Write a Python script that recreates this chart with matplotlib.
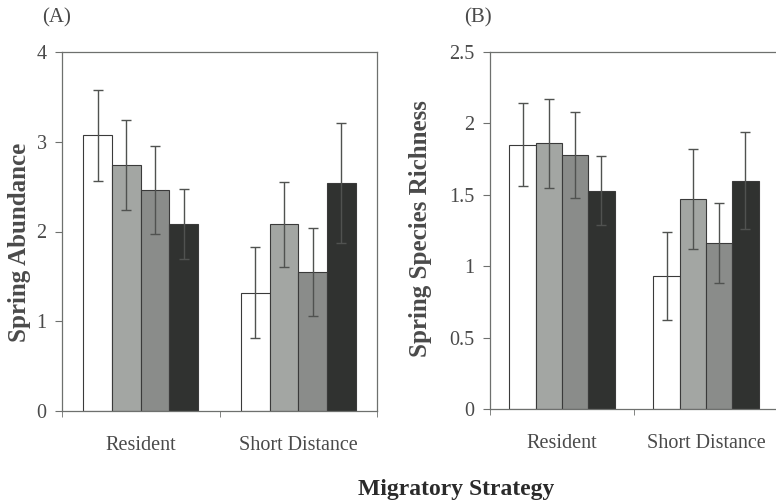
import matplotlib
matplotlib.use("Agg")
import numpy as np
from matplotlib import pyplot as plt

# migratory groups and the four treatment bars within each
strategies = ["Resident", "Short Distance"]
bar_colors = ["#ffffff", "#a3a6a3", "#8a8c8a", "#303230"]

# spring abundance (panel A), mean and error per bar
abund = [[3.07, 2.74, 2.46, 2.08],
         [1.32, 2.08, 1.55, 2.54]]
abund_err = [[0.51, 0.50, 0.49, 0.39],
             [0.51, 0.47, 0.49, 0.67]]

# spring species richness (panel B)
rich = [[1.85, 1.86, 1.78, 1.53],
        [0.93, 1.47, 1.16, 1.60]]
rich_err = [[0.29, 0.31, 0.30, 0.24],
            [0.31, 0.35, 0.28, 0.34]]

abund_ticks = [0, 1, 2, 3, 4]
abund_ticklabels = ["0", "1", "2", "3", "4"]
rich_ticks = [0, 0.5, 1, 1.5, 2, 2.5]
rich_ticklabels = ["0", "0.5", "1", "1.5", "2", "2.5"]

plt.rcParams['font.family'] = ['Liberation Serif', 'DejaVu Serif']
txt = '#4a4a4a'
edge = '#6e706e'

fig = plt.figure(figsize=(7.76, 5.03), dpi=100)
axA = fig.add_axes([62 / 776, 92 / 503, 315 / 776, 359 / 503])
axB = fig.add_axes([490 / 776, 94 / 503, 288 / 776, 357 / 503])


def draw_panel(ax, vals, errs, ticks, ticklabels, ymax):
    x = np.arange(len(strategies))
    w = 0.73 / 4
    for i in range(4):
        means = [v[i] for v in vals]
        e = [v[i] for v in errs]
        ax.bar(x + (i - 1.5) * w, means, w, color=bar_colors[i],
               edgecolor='#3a3a3a', linewidth=0.8, zorder=2)
        ax.errorbar(x + (i - 1.5) * w, means, yerr=e, fmt='none',
                    ecolor='#505250', elinewidth=1.0, capsize=3.5,
                    capthick=1.0, zorder=3)
    ax.set_xlim(-0.5, 1.5)
    ax.set_ylim(0, ymax)
    ax.set_yticks(ticks)
    ax.set_yticklabels(ticklabels)
    ax.set_xticks(x)
    ax.set_xticklabels(strategies)
    ax.set_xticks([-0.5, 0.5, 1.5], minor=True)
    ax.tick_params(axis='x', which='major', length=0, pad=18,
                   labelsize=14.5, labelcolor=txt)
    ax.tick_params(axis='x', which='minor', length=4, color=edge, direction='out')
    ax.tick_params(axis='y', length=5, width=0.8, color=edge, pad=6,
                   labelsize=14.5, labelcolor=txt)
    for s in ax.spines.values():
        s.set_color(edge)
        s.set_linewidth(0.9)


draw_panel(axA, abund, abund_err, abund_ticks, abund_ticklabels, 4)
draw_panel(axB, rich, rich_err, rich_ticks, rich_ticklabels, 2.5)

fig.text(20 / 776, 1 - 242 / 503, "Spring Abundance", rotation=90,
         ha='center', va='center', fontsize=18, fontweight='bold', color=txt)
fig.text(421 / 776, 1 - 229 / 503, "Spring Species Richness", rotation=90,
         ha='center', va='center', fontsize=18, fontweight='bold', color=txt)
fig.text(57 / 776, 1 - 18 / 503, "(A)", ha='center', va='center',
         fontsize=15, color=txt)
fig.text(478 / 776, 1 - 18 / 503, "(B)", ha='center', va='center',
         fontsize=15, color=txt)
fig.text(456 / 776, 1 - 489 / 503, "Migratory Strategy", ha='center',
         va='center', fontsize=17, fontweight='bold', color='#2a2a2a')

fig.savefig("out.png", dpi=100)
